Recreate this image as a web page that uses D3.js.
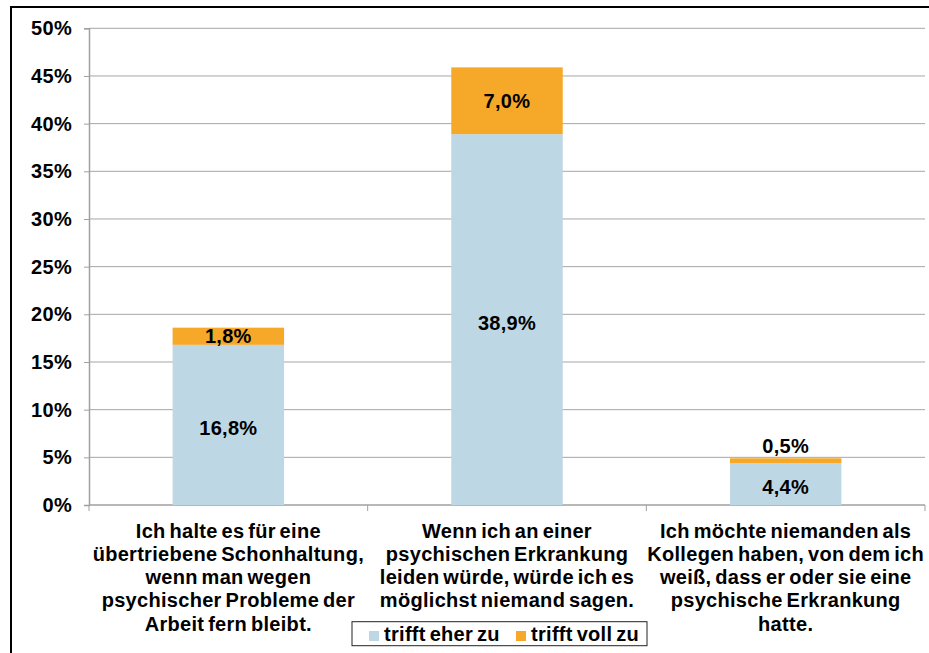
<!DOCTYPE html>
<html><head><meta charset="utf-8">
<script src="https://cdn.jsdelivr.net/npm/d3@7"></script>
<style>
html,body{margin:0;padding:0;background:#fff;}
svg{display:block;font-family:"Liberation Sans",Arial,sans-serif;font-weight:bold;}
</style></head>
<body>
<script>
const categories = [
  ["Ich halte es für eine","übertriebene Schonhaltung,","wenn man wegen","psychischer Probleme der","Arbeit fern bleibt."],
  ["Wenn ich an einer","psychischen Erkrankung","leiden würde, würde ich es","möglichst niemand sagen."],
  ["Ich möchte niemanden als","Kollegen haben, von dem ich","weiß, dass er oder sie eine","psychische Erkrankung","hatte."]
];
const seriesNames = ["trifft eher zu","trifft voll zu"];
const eherZu = [16.8, 38.9, 4.4];
const vollZu = [1.8, 7.0, 0.5];
const yTicks = [0,5,10,15,20,25,30,35,40,45,50];
const colors = ["#BED7E4","#F6A828"];

const W = 929, H = 653;
const FS = 20, LS = "0.3px";
const svg = d3.select("body").append("svg").attr("width",W).attr("height",H);

// outer border
svg.append("rect").attr("x",11).attr("y",7).attr("width",940).attr("height",700)
  .attr("fill","none").attr("stroke","#000").attr("stroke-width",2);

const x0 = 89, x1 = 925, yTop = 28.3, yBot = 505;
const x = d3.scaleBand().domain(d3.range(categories.length)).range([x0,x1]).padding(0);
const y = d3.scaleLinear().domain([0,50]).range([yBot,yTop]);

// gridlines
svg.append("g").selectAll("line").data(yTicks.filter(d=>d>0)).join("line")
  .attr("x1",x0).attr("x2",x1).attr("y1",d=>y(d)).attr("y2",d=>y(d))
  .attr("stroke","#A6A6A6").attr("stroke-width",1);

// y axis
const yAxis = svg.append("g").attr("transform",`translate(${x0},0)`)
  .call(d3.axisLeft(y).tickValues(yTicks).tickFormat(d=>d+"%").tickSize(5).tickPadding(12));
yAxis.select(".domain").attr("stroke","#A0A0A0").attr("stroke-width",1.5);
yAxis.selectAll(".tick line").attr("stroke","#A0A0A0");
yAxis.selectAll(".tick text").attr("font-size",FS).attr("font-weight","bold")
  .attr("letter-spacing",LS)
  .attr("font-family","Liberation Sans, Arial, sans-serif").attr("fill","#000");

// x axis line and ticks
svg.append("line").attr("x1",x0).attr("x2",x1).attr("y1",yBot).attr("y2",yBot)
  .attr("stroke","#A0A0A0").attr("stroke-width",1.5);
const bounds = d3.range(categories.length+1).map(i=> i<categories.length ? x(i) : x1);
svg.append("g").selectAll("line").data(bounds).join("line")
  .attr("x1",d=>d).attr("x2",d=>d).attr("y1",yBot).attr("y2",yBot+6)
  .attr("stroke","#A0A0A0").attr("stroke-width",1);

// bars
const barW = x.bandwidth()*0.4;
const stacks = categories.map((c,i)=>{
  const a = eherZu[i], b = vollZu[i];
  return [{s:0,i,y0:0,y1:a,v:a},{s:1,i,y0:a,y1:a+b,v:b}];
}).flat();
const cx = i => x(i)+x.bandwidth()/2;
svg.append("g").selectAll("rect").data(stacks).join("rect")
  .attr("x",d=>cx(d.i)-barW/2).attr("width",barW)
  .attr("y",d=>y(d.y1)).attr("height",d=>y(d.y0)-y(d.y1))
  .attr("fill",d=>colors[d.s]);

// labels
const fmt = v => v.toFixed(1).replace(".",",")+"%";
svg.append("g").selectAll("text").data(stacks).join("text")
  .attr("x",d=>cx(d.i))
  .attr("y",d=>{
    const h = y(d.y0)-y(d.y1);
    if (h < 14) return y(d.y1)-12;
    return (y(d.y0)+y(d.y1))/2 + (d.s===0 ? 3 : 0);
  })
  .attr("dy","0.35em").attr("text-anchor","middle").attr("font-size",FS)
  .attr("letter-spacing",LS).attr("fill","#000")
  .text(d=>fmt(d.v));

// category labels
const catG = svg.append("g");
categories.forEach((lines,i)=>{
  const t = catG.append("text").attr("text-anchor","middle").attr("font-size",FS)
    .attr("letter-spacing",LS).attr("word-spacing","-2px").attr("fill","#000");
  lines.forEach((ln,k)=>{
    t.append("tspan").attr("x",cx(i)).attr("y",537.5 + k*23.3).text(ln);
  });
});

// legend
const lg = svg.append("g");
lg.append("rect").attr("x",352).attr("y",621.7).attr("width",295).attr("height",24)
  .attr("fill","#fff").attr("stroke","#222").attr("stroke-width",1);
const legX = [369, 516];
seriesNames.forEach((n,i)=>{
  lg.append("rect").attr("x",legX[i]).attr("y",631).attr("width",10).attr("height",10).attr("fill",colors[i]);
  lg.append("text").attr("x",legX[i]+15).attr("y",640.5).attr("font-size",FS).attr("fill","#000")
    .attr("letter-spacing",LS).attr("word-spacing","-2px").text(n);
});
</script>
</body></html>
